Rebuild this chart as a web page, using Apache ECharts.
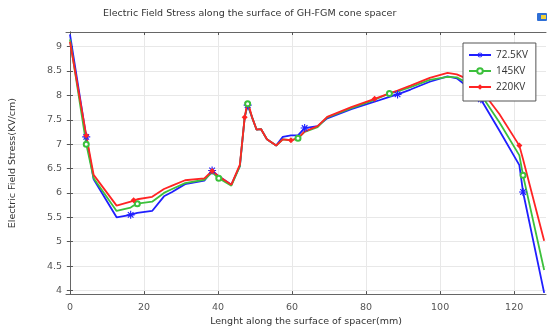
<!DOCTYPE html>
<html>
<head>
<meta charset="utf-8">
<script src="https://cdn.jsdelivr.net/npm/echarts@6/dist/echarts.min.js"></script>
<style>
  html, body { margin: 0; padding: 0; background: #fff; }
  #chart { width: 547px; height: 332px; }
</style>
</head>
<body>
<div id="chart"></div>
<script>
// Position along the spacer surface (mm)
const lengthMm = [0, 4.4, 6.4, 12.6, 16.4, 17.2, 18.2, 22.2, 25.4, 27.6, 31.1, 36.3, 38.4, 40.2, 43.6, 45.9,
  47.2, 48.0, 49.2, 50.4, 51.6, 53.2, 55.7, 57.5, 59.7, 61.6, 63.4, 66.9, 69.5, 76, 82.3, 86.3, 88.5,
  92, 97.2, 102, 104.5, 107, 111, 116, 121.4, 122.4, 128.1];

// Field stress (kV/cm) for each applied voltage
const stress72 = [9.25, 7.15, 6.28, 5.5, 5.55, 5.57, 5.59, 5.63, 5.93, 6.02, 6.18, 6.25, 6.46, 6.34, 6.17, 6.55,
  7.55, 7.8, 7.55, 7.3, 7.31, 7.1, 6.97, 7.15, 7.18, 7.18, 7.33, 7.37, 7.53, 7.72, 7.87, 7.97, 8.02,
  8.12, 8.28, 8.39, 8.35, 8.2, 7.92, 7.28, 6.57, 6.02, 3.95];
const stress145 = [9.15, 7.0, 6.3, 5.63, 5.7, 5.74, 5.78, 5.82, 6.0, 6.08, 6.2, 6.27, 6.42, 6.3, 6.15, 6.55,
  7.55, 7.83, 7.55, 7.3, 7.31, 7.1, 6.97, 7.1, 7.08, 7.12, 7.25, 7.35, 7.55, 7.74, 7.91, 8.04, 8.08,
  8.17, 8.32, 8.38, 8.37, 8.27, 8.02, 7.45, 6.77, 6.36, 4.42];
const stress220 = [9.1, 7.18, 6.37, 5.74, 5.82, 5.85, 5.87, 5.92, 6.08, 6.15, 6.26, 6.3, 6.45, 6.34, 6.17, 6.58,
  7.55, 7.88, 7.55, 7.3, 7.31, 7.1, 6.97, 7.1, 7.08, 7.12, 7.26, 7.37, 7.56, 7.76, 7.93, 8.04, 8.1,
  8.2, 8.36, 8.46, 8.43, 8.35, 8.12, 7.62, 6.97, 6.69, 5.02];

// Indices of the points that carry a marker
const marks72 = [1, 4, 12, 17, 26, 32, 38, 41];
const marks145 = [1, 6, 13, 17, 25, 31, 41];
const marks220 = [1, 5, 12, 16, 24, 30, 40];

const seriesNames = ['72.5KV', '145KV', '220KV'];
const xTicks = [0, 20, 40, 60, 80, 100, 120];
const yTicks = [4, 4.5, 5, 5.5, 6, 6.5, 7, 7.5, 8, 8.5, 9];

const asterisk = 'path://M4.3,0H5.7V10H4.3Z M0,4.3H10V5.7H0Z M1,2L2,1L9,8L8,9Z M8,1L9,2L2,9L1,8Z';

function buildData(ys, marks) {
  return lengthMm.map((x, i) => marks.includes(i)
    ? { value: [x, ys[i]] }
    : { value: [x, ys[i]], symbolSize: 0 });
}

function lineSeries(name, ys, marks, color, symbol, size) {
  return {
    name: name,
    type: 'line',
    data: buildData(ys, marks),
    symbol: symbol,
    symbolSize: size,
    showAllSymbol: true,
    clip: false,
    lineStyle: { color: color, width: 1.8, type: 'solid' },
    itemStyle: { color: color, borderColor: color, borderWidth: symbol === 'emptyCircle' ? 1.1 : 0 },
    emphasis: { disabled: true },
    animation: false
  };
}

const chart = echarts.init(document.getElementById('chart'), null, { renderer: 'canvas' });

const axisFont = { fontFamily: 'DejaVu Sans', fontSize: 9.5, color: '#555' };
const nameFont = { fontFamily: 'DejaVu Sans', fontSize: 9.5, color: '#333' };
const frameLine = { show: true, lineStyle: { color: '#666', width: 1 } };

chart.setOption({
  animation: false,
  aria: { enabled: false },
  backgroundColor: '#fff',
  grid: { left: 63, top: 32, right: 1, bottom: 35, containLabel: false },
  graphic: [
    {
      type: 'text', left: 103, top: 9,
      style: {
        text: 'Electric Field Stress along the surface of GH-FGM cone spacer',
        font: '9.5px "DejaVu Sans"', fill: '#333'
      }
    },
    {
      type: 'group', right: 0, top: 13,
      children: [
        { type: 'rect', shape: { x: 0, y: 0, width: 10, height: 8, r: 1 }, style: { fill: '#2f6fd6' } },
        { type: 'rect', shape: { x: 4, y: 2, width: 5, height: 4 }, style: { fill: '#f2d23a' } }
      ]
    }
  ],
  legend: {
    data: seriesNames,
    orient: 'vertical',
    left: 463, top: 43,
    backgroundColor: '#fff',
    borderColor: '#555', borderWidth: 1,
    padding: [6, 8, 8, 5],
    itemGap: 4,
    itemWidth: 22, itemHeight: 7,
    textStyle: { fontFamily: 'Open Sans', fontSize: 10, color: '#333', lineHeight: 12 },
    z: 10
  },
  xAxis: [
    {
      type: 'value', min: -1.07, max: 128.6,
      name: 'Lenght along the surface of spacer(mm)',
      nameLocation: 'middle', nameGap: 22,
      nameTextStyle: nameFont,
      axisLine: frameLine,
      axisTick: { show: true, inside: true, length: 3, customValues: xTicks, lineStyle: { color: '#555' } },
      axisLabel: Object.assign({ customValues: xTicks, margin: 8 }, axisFont),
      splitLine: { show: true, lineStyle: { color: '#e8e8e8', width: 1 } }
    },
    {
      type: 'value', min: -1.07, max: 128.6, position: 'top',
      axisLine: frameLine,
      axisTick: { show: true, inside: true, length: 3, customValues: xTicks, lineStyle: { color: '#555' } },
      axisLabel: { show: false },
      splitLine: { show: false }
    }
  ],
  yAxis: [
    {
      type: 'value', min: 3.925, max: 9.3,
      name: 'Electric Field Stress(KV/cm)',
      nameLocation: 'middle', nameGap: 48,
      nameTextStyle: nameFont,
      axisLine: frameLine,
      axisTick: { show: true, inside: true, length: 3, customValues: yTicks, lineStyle: { color: '#555' } },
      axisLabel: Object.assign({ customValues: yTicks, margin: 4 }, axisFont),
      splitLine: { show: true, lineStyle: { color: '#e8e8e8', width: 1 } }
    },
    {
      type: 'value', min: 3.925, max: 9.3, position: 'right',
      axisLine: frameLine,
      axisTick: { show: true, inside: true, length: 3, customValues: yTicks, lineStyle: { color: '#555' } },
      axisLabel: { show: false },
      splitLine: { show: false }
    }
  ],
  series: [
    lineSeries(seriesNames[0], stress72, marks72, '#1f1fff', asterisk, 8),
    lineSeries(seriesNames[1], stress145, marks145, '#3cc03c', 'emptyCircle', 5),
    lineSeries(seriesNames[2], stress220, marks220, '#ff2424', 'diamond', 6)
  ]
});
</script>
</body>
</html>
